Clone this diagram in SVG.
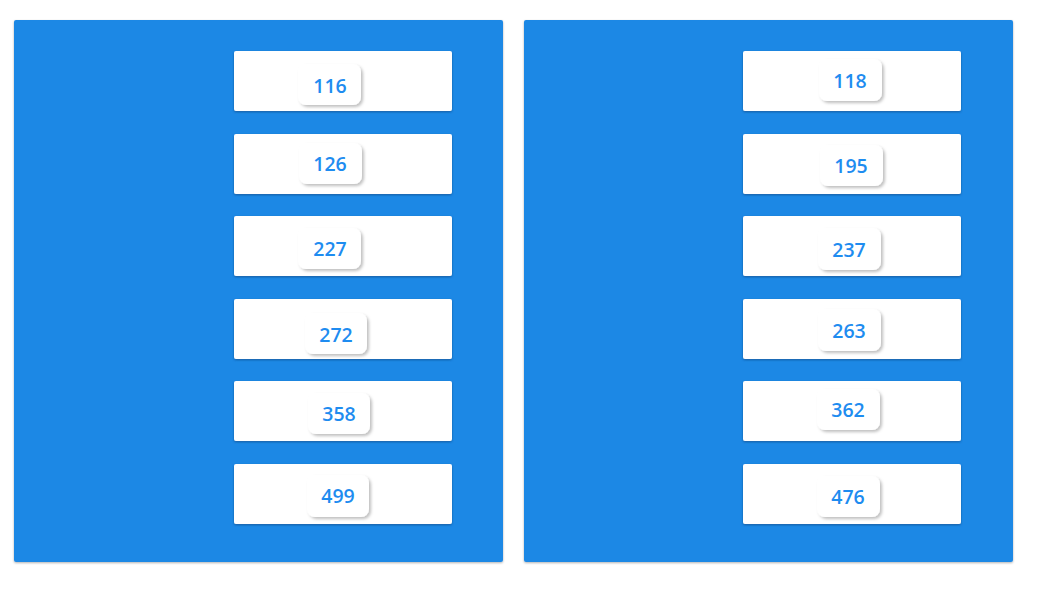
<svg xmlns="http://www.w3.org/2000/svg" width="1045" height="605" viewBox="0 0 1045 605">
<defs>
<filter id="ps" x="-5%" y="-5%" width="110%" height="110%"><feDropShadow dx="0" dy="1" stdDeviation="1" flood-color="#000" flood-opacity="0.3"/></filter>
<filter id="cs" x="-5%" y="-10%" width="110%" height="125%"><feDropShadow dx="0" dy="1" stdDeviation="0.8" flood-color="#0d3d70" flood-opacity="0.6"/></filter>
<filter id="bs" x="-20%" y="-20%" width="150%" height="160%"><feDropShadow dx="2" dy="2" stdDeviation="1.5" flood-color="#000" flood-opacity="0.25"/></filter>
</defs>
<style>
.panel{fill:#1e88e5}
.card{fill:#fff}
.badge{fill:#fff}
.t{font-family:"Open Sans","Noto Sans",sans-serif;font-size:19.5px;font-weight:600;fill:#1e8cf0;text-anchor:middle}
</style>
<rect width="1045" height="605" fill="#fff"/>
<g id="panel-left"><rect class="panel" x="14" y="20" width="489" height="542" rx="2" filter="url(#ps)"/></g>
<g id="panel-right"><rect class="panel" x="524" y="20" width="489" height="542" rx="2" filter="url(#ps)"/></g>
<g id="connectors"></g>
<g id="n116"><rect class="card" x="234" y="51" width="218" height="60" rx="2" filter="url(#cs)"/><rect class="badge" x="298" y="64" width="63" height="41" rx="8" filter="url(#bs)"/><text class="t" x="330" y="93">116</text></g>
<g id="n126"><rect class="card" x="234" y="134" width="218" height="60" rx="2" filter="url(#cs)"/><rect class="badge" x="299" y="143" width="63" height="41" rx="8" filter="url(#bs)"/><text class="t" x="330" y="171">126</text></g>
<g id="n227"><rect class="card" x="234" y="216" width="218" height="60" rx="2" filter="url(#cs)"/><rect class="badge" x="298" y="228" width="63" height="41" rx="8" filter="url(#bs)"/><text class="t" x="330" y="256">227</text></g>
<g id="n272"><rect class="card" x="234" y="299" width="218" height="60" rx="2" filter="url(#cs)"/><rect class="badge" x="305" y="313" width="62" height="41" rx="8" filter="url(#bs)"/><text class="t" x="336" y="342">272</text></g>
<g id="n358"><rect class="card" x="234" y="381" width="218" height="60" rx="2" filter="url(#cs)"/><rect class="badge" x="308" y="393" width="62" height="41" rx="8" filter="url(#bs)"/><text class="t" x="339" y="421">358</text></g>
<g id="n499"><rect class="card" x="234" y="464" width="218" height="60" rx="2" filter="url(#cs)"/><rect class="badge" x="307" y="475" width="62" height="42" rx="8" filter="url(#bs)"/><text class="t" x="338" y="503">499</text></g>
<g id="n118"><rect class="card" x="743" y="51" width="218" height="60" rx="2" filter="url(#cs)"/><rect class="badge" x="819" y="59" width="63" height="42" rx="8" filter="url(#bs)"/><text class="t" x="850" y="88">118</text></g>
<g id="n195"><rect class="card" x="743" y="134" width="218" height="60" rx="2" filter="url(#cs)"/><rect class="badge" x="820" y="145" width="63" height="41" rx="8" filter="url(#bs)"/><text class="t" x="851" y="173">195</text></g>
<g id="n237"><rect class="card" x="743" y="216" width="218" height="60" rx="2" filter="url(#cs)"/><rect class="badge" x="818" y="228" width="63" height="42" rx="8" filter="url(#bs)"/><text class="t" x="849" y="257">237</text></g>
<g id="n263"><rect class="card" x="743" y="299" width="218" height="60" rx="2" filter="url(#cs)"/><rect class="badge" x="818" y="309" width="63" height="42" rx="8" filter="url(#bs)"/><text class="t" x="849" y="338">263</text></g>
<g id="n362"><rect class="card" x="743" y="381" width="218" height="60" rx="2" filter="url(#cs)"/><rect class="badge" x="817" y="389" width="63" height="41" rx="8" filter="url(#bs)"/><text class="t" x="848" y="417">362</text></g>
<g id="n476"><rect class="card" x="743" y="464" width="218" height="60" rx="2" filter="url(#cs)"/><rect class="badge" x="817" y="476" width="63" height="41" rx="8" filter="url(#bs)"/><text class="t" x="848" y="504">476</text></g>
</svg>
